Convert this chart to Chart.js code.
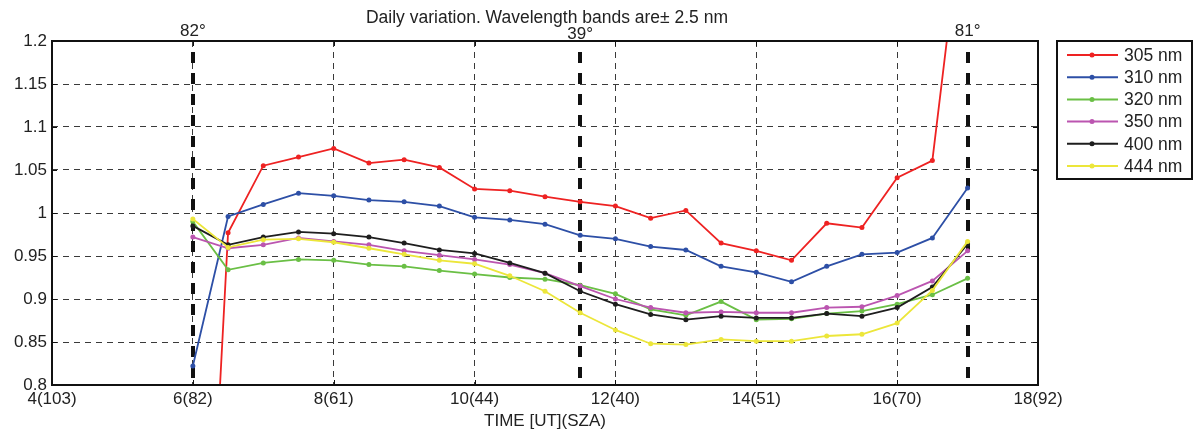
<!DOCTYPE html>
<html>
<head>
<meta charset="utf-8">
<title>Daily variation</title>
<script src="https://cdn.jsdelivr.net/npm/chart.js@4.4.1/dist/chart.umd.min.js"></script>
<style>
    body { margin: 0; background: #fff; }
    canvas { display: block; }
</style>
</head>
<body>
<canvas id="graficoLinha" width="1202" height="435"></canvas>
<script>
// dados
const horas = [6, 6.5, 7, 7.5, 8, 8.5, 9, 9.5, 10, 10.5, 11, 11.5, 12, 12.5, 13, 13.5, 14, 14.5, 15, 15.5, 16, 16.5, 17];
const nm305 = [0.20, 0.977, 1.055, 1.065, 1.075, 1.058, 1.062, 1.053, 1.028, 1.026, 1.019, 1.013, 1.008, 0.994, 1.003, 0.965, 0.956, 0.945, 0.988, 0.983, 1.041, 1.061, 1.40];
const nm310 = [0.822, 0.996, 1.010, 1.023, 1.020, 1.015, 1.013, 1.008, 0.995, 0.992, 0.987, 0.974, 0.970, 0.961, 0.957, 0.938, 0.931, 0.920, 0.938, 0.952, 0.954, 0.971, 1.029];
const nm320 = [0.990, 0.934, 0.942, 0.946, 0.945, 0.940, 0.938, 0.933, 0.929, 0.925, 0.923, 0.916, 0.906, 0.888, 0.881, 0.897, 0.876, 0.877, 0.883, 0.886, 0.894, 0.905, 0.924];
const nm350 = [0.972, 0.959, 0.963, 0.971, 0.967, 0.963, 0.956, 0.951, 0.946, 0.940, 0.930, 0.915, 0.900, 0.890, 0.884, 0.885, 0.884, 0.884, 0.890, 0.891, 0.904, 0.921, 0.956];
const nm400 = [0.985, 0.963, 0.972, 0.978, 0.976, 0.972, 0.965, 0.957, 0.953, 0.942, 0.930, 0.909, 0.894, 0.882, 0.876, 0.880, 0.878, 0.878, 0.883, 0.880, 0.890, 0.914, 0.964];
const nm444 = [0.993, 0.960, 0.969, 0.970, 0.966, 0.959, 0.952, 0.945, 0.941, 0.927, 0.909, 0.884, 0.864, 0.848, 0.847, 0.853, 0.851, 0.851, 0.857, 0.859, 0.872, 0.910, 0.967];

const nomesSeries = ['305 nm', '310 nm', '320 nm', '350 nm', '400 nm', '444 nm'];
const valoresSeries = [nm305, nm310, nm320, nm350, nm400, nm444];
const cores = ['#ee2222', '#2d4fa6', '#6abf45', '#bb55b0', '#1e1e1e', '#ece63a'];

const ticksX = [4, 6, 8, 10, 12, 14, 16, 18];
const rotulosX = ['4(103)', '6(82)', '8(61)', '10(44)', '12(40)', '14(51)', '16(70)', '18(92)'];
const ticksY = [0.8, 0.85, 0.9, 0.95, 1, 1.05, 1.1, 1.15, 1.2];

// linhas verticais grossas (angulo zenital)
const horasSZA = [6, 11.5, 17];
const rotulosSZA = ['82°', '39°', '81°'];

const titulo = 'Daily variation. Wavelength bands are\u00b1 2.5 nm';
const fonte = '"Liberation Sans", Arial, sans-serif';

const moldura = {
    id: 'moldura',
    beforeDatasetsDraw(chart) {
        const c = chart.ctx;
        const a = chart.chartArea;
        const x = chart.scales.x;
        c.save();
        c.strokeStyle = '#111';
        c.lineWidth = 4;
        c.setLineDash([11, 10]);
        horasSZA.forEach(h => {
            const px = Math.round(x.getPixelForValue(h));
            c.beginPath();
            c.moveTo(px, a.top + 11);
            c.lineTo(px, a.bottom);
            c.stroke();
        });
        c.restore();
    },
    afterDraw(chart) {
        const c = chart.ctx;
        const a = chart.chartArea;
        const x = chart.scales.x;
        const y = chart.scales.y;
        c.save();
        // caixa
        c.strokeStyle = '#111';
        c.lineWidth = 2;
        c.setLineDash([]);
        c.strokeRect(a.left, a.top, a.right - a.left, a.bottom - a.top);
        c.lineWidth = 1;
        ticksX.forEach(v => {
            const px = Math.round(x.getPixelForValue(v)) + 0.5;
            c.beginPath();
            c.moveTo(px, a.bottom); c.lineTo(px, a.bottom - 5);
            c.moveTo(px, a.top); c.lineTo(px, a.top + 5);
            c.stroke();
        });
        ticksY.forEach(v => {
            const py = Math.round(y.getPixelForValue(v)) + 0.5;
            c.beginPath();
            c.moveTo(a.left, py); c.lineTo(a.left + 5, py);
            c.moveTo(a.right, py); c.lineTo(a.right - 5, py);
            c.stroke();
        });

        // textos de cima
        c.fillStyle = '#222';
        c.font = '17.5px ' + fonte;
        c.textAlign = 'center';
        c.textBaseline = 'alphabetic';
        c.fillText(titulo, (a.left + a.right) / 2 + 2, 23);
        c.font = '17px ' + fonte;
        horasSZA.forEach((h, i) => {
            const px = x.getPixelForValue(h);
            c.fillText(rotulosSZA[i], px, i === 1 ? 39 : 36);
        });

        // legenda
        const lx = 1057, ly = 41, lw = 135, lh = 138;
        c.fillStyle = '#fff';
        c.fillRect(lx, ly, lw, lh);
        c.strokeStyle = '#111';
        c.lineWidth = 2;
        c.strokeRect(lx, ly, lw, lh);
        c.font = '17.5px ' + fonte;
        c.textAlign = 'left';
        c.textBaseline = 'middle';
        chart.data.datasets.forEach((ds, i) => {
            const ry = ly + 14 + i * 22.2;
            c.strokeStyle = ds.borderColor;
            c.lineWidth = 2;
            c.beginPath();
            c.moveTo(lx + 10, ry);
            c.lineTo(lx + 61, ry);
            c.stroke();
            c.fillStyle = ds.borderColor;
            c.beginPath();
            c.arc(lx + 35, ry, 2.5, 0, Math.PI * 2);
            c.fill();
            c.fillStyle = '#222';
            c.fillText(ds.label, lx + 67, ry + 1);
        });
        c.restore();
    }
};

const ctx = document.getElementById('graficoLinha').getContext('2d');
const chart = new Chart(ctx, {
    type: 'line',
    data: {
        datasets: nomesSeries.map((nome, i) => ({
            label: nome,
            data: horas.map((h, j) => ({ x: h, y: valoresSeries[i][j] })),
            borderColor: cores[i],
            backgroundColor: cores[i],
            borderWidth: 1.8,
            pointRadius: 2.5,
            pointBorderWidth: 0,
            pointHoverRadius: 2.5,
            tension: 0,
            clip: 0,
            order: nomesSeries.length - i
        }))
    },
    options: {
        responsive: false,
        animation: false,
        events: [],
        layout: {
            padding: { top: 41, right: 164, bottom: 0, left: 0 }
        },
        plugins: {
            legend: { display: false },
            title: { display: false },
            tooltip: { enabled: false }
        },
        scales: {
            x: {
                type: 'linear',
                min: 4,
                max: 18,
                afterBuildTicks: (s) => { s.ticks = ticksX.map(v => ({ value: v })); },
                afterFit: (s) => { s.height = 50; },
                ticks: {
                    color: '#222',
                    font: { family: fonte, size: 17 },
                    padding: 4,
                    maxRotation: 0,
                    callback: (v) => rotulosX[ticksX.indexOf(v)]
                },
                grid: { color: '#3a3a3a', lineWidth: 1, drawTicks: false },
                border: { display: false, dash: [6, 5] },
                title: {
                    display: true,
                    text: 'TIME [UT](SZA)',
                    color: '#222',
                    font: { family: fonte, size: 17 },
                    padding: { top: 0, bottom: 3 }
                }
            },
            y: {
                min: 0.8,
                max: 1.2,
                afterBuildTicks: (s) => { s.ticks = ticksY.map(v => ({ value: v })); },
                afterFit: (s) => { s.width = 52; },
                ticks: {
                    color: '#222',
                    font: { family: fonte, size: 17 },
                    padding: 5,
                    callback: (v) => String(Math.round(v * 100) / 100)
                },
                grid: { color: '#3a3a3a', lineWidth: 1, drawTicks: false },
                border: { display: false, dash: [6, 5] }
            }
        }
    },
    plugins: [moldura]
});
</script>
</body>
</html>
